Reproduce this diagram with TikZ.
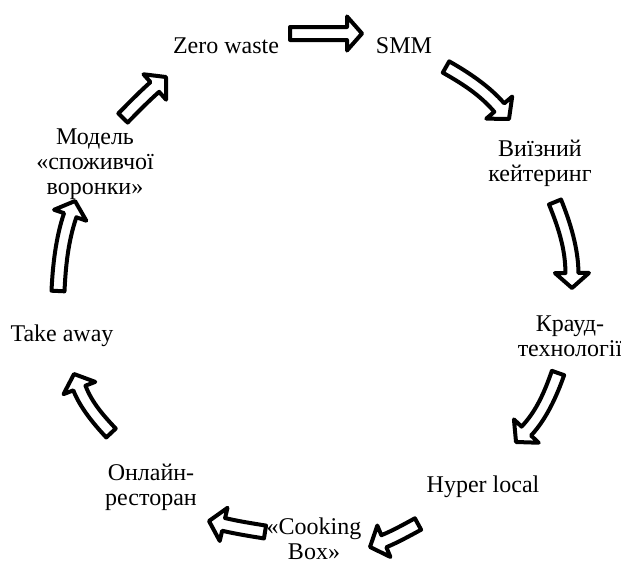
\documentclass[tikz,border=0pt]{standalone}
\usepackage{fontspec}
\setmainfont{Liberation Serif}
\usetikzlibrary{calc}
\newcommand{\ahw}{17}
\newcommand{\ahl}{15}
\newcommand{\asw}{6.5}
\newcommand{\blockarrow}[3]{%
  \path let \p1=($(#2)-(#1)$) in \pgfextra{%
    \pgfmathsetmacro{\baA}{atan2(\y1,\x1)}%
    \pgfmathsetmacro{\baL}{veclen(\x1,\y1)}%
    \xdef\baAng{\baA}\xdef\baLen{\baL}};
  \begin{scope}[shift={(#1)}, rotate=\baAng, x=1pt, y=1pt]
    \pgfmathsetmacro{\cb}{cos(#3)}%
    \pgfmathsetmacro{\sb}{sin(#3)}%
    \pgfmathsetmacro{\Hx}{\baLen-\ahl*\cb}%
    \pgfmathsetmacro{\Hy}{\ahl*\sb}%
    \pgfmathsetmacro{\dd}{veclen(\Hx,\Hy)/3}%
    \draw[blockarrowline]
      ({-\asw*\sb},{\asw*\cb})
      .. controls ({\dd*\cb-\asw*\sb},{\dd*\sb+\asw*\cb})
      and ({\Hx-\dd*\cb+\asw*\sb},{\Hy+\dd*\sb+\asw*\cb})
      .. ({\Hx+\asw*\sb},{\Hy+\asw*\cb})
      -- ({\Hx+\ahw*\sb},{\Hy+\ahw*\cb})
      -- (\baLen,0)
      -- ({\Hx-\ahw*\sb},{\Hy-\ahw*\cb})
      -- ({\Hx-\asw*\sb},{\Hy-\asw*\cb})
      .. controls ({\Hx-\dd*\cb-\asw*\sb},{\Hy+\dd*\sb-\asw*\cb})
      and ({\dd*\cb+\asw*\sb},{\dd*\sb-\asw*\cb})
      .. ({\asw*\sb},{-\asw*\cb})
      -- cycle;
  \end{scope}}
\tikzset{
  blockarrowline/.style={draw=black, fill=white, line width=4pt, line join=round},
  lbl/.style={inner sep=0pt, align=center, font=\fontsize{24}{25}\selectfont}
}
\begin{document}
\begin{tikzpicture}[x=1pt, y=-1pt]
\path[use as bounding box] (0,0) rectangle (621,566);
% labels
\node[lbl] (zw)  at (226,46)  {Zero waste};
\node[lbl] (smm) at (404,46)  {SMM};
\node[lbl] (vk)  at (540,163) {Виїзний\\кейтеринг};
\node[lbl] (kt)  at (570,336) {Крауд-\\технології};
\node[lbl] (hl)  at (483,487) {Hyper local};
\node[lbl] (cb)  at (314,539) {«Cooking\\Box»};
\node[lbl] (or)  at (151,487) {Онлайн-\\ресторан};
\node[lbl] (ta)  at (62,336)  {Take away};
\node[lbl] (mod) at (95,164)  {Модель\\«споживчої\\воронки»};
% arrow ends
\coordinate (a1s) at (290,33.5); \coordinate (a1e) at (362,33.5);
\coordinate (a2s) at (446,67);   \coordinate (a2e) at (509,119);
\coordinate (a3s) at (555,202);  \coordinate (a3e) at (572,288);
\coordinate (a4s) at (558,373);  \coordinate (a4e) at (516,442);
\coordinate (a5s) at (418,524);  \coordinate (a5e) at (370,547);
\coordinate (a6s) at (265,532);  \coordinate (a6e) at (209,521);
\coordinate (a7s) at (111,433);  \coordinate (a7e) at (74,374);
\coordinate (a8s) at (58,291);   \coordinate (a8e) at (75,201);
\coordinate (a9s) at (123,118);  \coordinate (a9e) at (166,77);
\blockarrow{a1s}{a1e}{0}
\blockarrow{a2s}{a2e}{10}
\blockarrow{a3s}{a3e}{11}
\blockarrow{a4s}{a4e}{12}
\blockarrow{a5s}{a5e}{3}
\blockarrow{a6s}{a6e}{2}
\blockarrow{a7s}{a7e}{11}
\blockarrow{a8s}{a8e}{8}
\blockarrow{a9s}{a9e}{2}
\end{tikzpicture}
\end{document}
